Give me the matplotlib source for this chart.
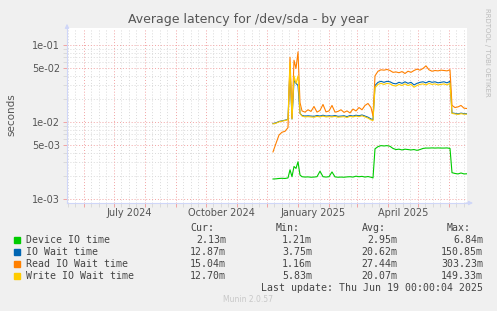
import numpy as np
import pandas as pd
import matplotlib
matplotlib.use('Agg')
import matplotlib.pyplot as plt
from matplotlib.patches import Rectangle

plt.rcParams['font.family'] = ['DejaVu Sans']

# day offsets from the first sample (2024-12-07)
start = pd.Timestamp('2024-12-07')
day_offsets = [0, 3, 6, 9, 12, 15, 17, 19, 21, 23, 25, 27, 29,
               32, 35, 38, 41, 44, 47, 50, 53, 56, 59, 62, 65, 68, 71, 74, 77, 80,
               83, 86, 89, 92, 95, 98, 100, 102,
               105, 108, 111, 114, 117, 120, 123, 126, 129, 132, 135, 138, 141,
               144, 147, 150, 153, 156, 159, 162, 165, 168, 171, 174, 177,
               179, 182, 185, 188, 191, 194]

# values in milliseconds
device_io = [1.82, 1.83, 1.85, 1.86, 1.85, 1.88, 2.4, 1.95, 2.65, 2.5, 3.05, 2.05, 1.95,
             1.93, 1.94, 1.92, 1.93, 1.95, 2.3, 1.95, 1.93, 1.95, 2.25, 1.94, 1.92, 1.93, 1.92, 1.94, 1.95, 1.93,
             1.98, 1.95, 1.97, 1.93, 1.96, 1.92, 1.88, 4.5,
             4.8, 4.95, 4.9, 4.95, 4.85, 4.55, 4.4, 4.45, 4.35, 4.45, 4.4, 4.35, 4.4,
             4.3, 4.4, 4.55, 4.6, 4.6, 4.62, 4.6, 4.62, 4.6, 4.6, 4.62, 4.55,
             2.2, 2.15, 2.12, 2.18, 2.12, 2.13]
io_wait = [9.6, 9.8, 10.2, 10.4, 10.6, 10.9, 50, 11, 35, 32, 30, 13, 12.2,
           12, 12.1, 12, 11.9, 12.2, 12, 12.3, 12, 12.1, 12, 12.2, 11.9, 12, 12.1, 11.8, 12.2, 12,
           12.3, 12.1, 12.4, 12, 11.6, 11, 10.8, 30,
           33, 34, 33, 34, 33.5, 32, 31.5, 33, 32, 33.5, 32, 33, 30.5,
           32, 33, 33.5, 32.5, 34, 33, 33.5, 32.5, 33, 33.5, 32.5, 34,
           13.2, 13, 12.8, 13.1, 12.9, 12.87]
read_wait = [4.1, 5.3, 6.8, 7.4, 7.6, 8.5, 70, 11.3, 64, 50, 82, 18, 14,
             13.5, 14.5, 13.8, 16, 13.5, 14.2, 17, 13.6, 14, 16.5, 13.5, 13.8, 14.5, 13.4, 14, 13.2, 14.8,
             14, 15.5, 14.5, 16.5, 17.5, 15.5, 12, 40,
             46, 48, 47.5, 48.5, 47, 44.5, 45, 44, 45.5, 43, 46, 44.5, 47,
             49, 47.5, 50, 54, 48, 46, 47, 46.5, 47.5, 47, 46.5, 48,
             16.5, 15.5, 15.8, 16.5, 15.2, 15.04]
write_wait = [9.5, 9.7, 10.1, 10.3, 10.5, 10.8, 60, 11, 40, 32, 40, 13, 12,
              11.7, 11.8, 11.7, 11.6, 11.9, 11.7, 12, 11.7, 11.8, 11.7, 11.9, 11.6, 11.7, 11.8, 11.5, 11.9, 11.7,
              12, 11.8, 12.1, 11.7, 11.3, 10.7, 10.5, 28,
              31, 32, 31, 32, 31.5, 30, 29.5, 31, 30, 31.5, 30, 31, 28.5,
              30, 31, 31.5, 30.5, 32, 31, 31.5, 30.5, 31, 31.5, 30.5, 32,
              13, 12.8, 12.6, 12.9, 12.7, 12.70]

series_names = ['Device IO time', 'IO Wait time', 'Read IO Wait time', 'Write IO Wait time']
series_colors = ['#00CC00', '#0066B3', '#FF8000', '#FFCC00']
cur_vals = ['2.13m', '12.87m', '15.04m', '12.70m']
min_vals = ['1.21m', '3.75m', '1.16m', '5.83m']
avg_vals = ['2.95m', '20.62m', '27.44m', '20.07m']
max_vals = ['6.84m', '150.85m', '303.23m', '149.33m']

month_labels = ['July 2024', 'October 2024', 'January 2025', 'April 2025']
month_label_dates = ['2024-07-16', '2024-10-16', '2025-01-16', '2025-04-16']

W, H = 497, 311
fig = plt.figure(figsize=(W / 100, H / 100), dpi=100, facecolor='#F0F0F0')
ax = fig.add_axes([67 / W, 1 - 203 / H, 400 / W, 175 / H])
ax.set_facecolor('white')

dates = [start + pd.Timedelta(days=d) for d in day_offsets]
for vals, c in zip([device_io, io_wait, read_wait, write_wait], series_colors):
    ax.plot(dates, np.array(vals) / 1000.0, color=c, lw=0.8, zorder=3)

ax.set_yscale('log')

grid_minor = '#DADADA'
grid_major = '#F2A3A3'

# y grid
yticks = [1e-3, 5e-3, 1e-2, 5e-2, 1e-1]
ax.set_yticks(yticks)
ax.set_yticklabels(['%.0e' % v for v in yticks])
yminor = [m * 10.0 ** e for e in (-3, -2) for m in (2, 3, 4, 6, 7, 8, 9)]
ax.set_yticks(yminor, minor=True)
ax.yaxis.set_minor_formatter(plt.NullFormatter())
for v in yminor:
    ax.axhline(v, color=grid_minor, lw=0.7, ls=(0, (1, 2)), zorder=1)
for v in yticks:
    ax.axhline(v, color=grid_major, lw=0.7, ls=(0, (1, 2)), zorder=2)

# x grid: month starts (major) and quarter-month lines (minor)
months = pd.date_range('2024-05-01', '2025-07-01', freq='MS')
xminor = [m + pd.Timedelta(days=d - 1) for m in months for d in (8, 16, 23)]
for m in months:
    ax.axvline(m, color=grid_major, lw=0.7, ls=(0, (1, 2)), zorder=2)
for m in xminor:
    ax.axvline(m, color=grid_minor, lw=0.7, ls=(0, (1, 2)), zorder=1)
ax.set_xticks(months)
ax.set_xticklabels([])
ax.set_xticks(xminor, minor=True)

# limits after ticks so they are not widened
ax.set_ylim(8.87e-4, 0.168)
ax.set_xlim(pd.Timestamp('2024-05-15'), pd.Timestamp('2025-06-19'))

ax.tick_params(axis='both', which='major', length=3, width=0.7, color=grid_major,
               labelsize=7, labelcolor='#555555', pad=2)
ax.tick_params(axis='both', which='minor', length=3, width=0.7, color=grid_minor)

for lab, d in zip(month_labels, month_label_dates):
    ax.text(pd.Timestamp(d), -0.03, lab, transform=ax.get_xaxis_transform(),
            ha='center', va='top', fontsize=7, color='#555555')

for s in ('top', 'right'):
    ax.spines[s].set_visible(False)
for s in ('left', 'bottom'):
    ax.spines[s].set_color('#CFD6F8')
    ax.spines[s].set_linewidth(0.8)

# axis arrows
ax.annotate('', xy=(0, 1.04), xytext=(0, 0.98), xycoords='axes fraction',
            arrowprops=dict(arrowstyle='-|>', color='#CFD6F8', lw=0.8, mutation_scale=6),
            annotation_clip=False)
ax.annotate('', xy=(1.022, 0), xytext=(0.99, 0), xycoords='axes fraction',
            arrowprops=dict(arrowstyle='-|>', color='#CFD6F8', lw=0.8, mutation_scale=6),
            annotation_clip=False)

fig.text(11 / W, 1 - 115 / H, 'seconds', rotation=90, ha='center', va='center',
         fontsize=7.5, color='#555555')

fig.text(248 / W, 1 - 19 / H, 'Average latency for /dev/sda - by year',
         ha='center', va='center', fontsize=9, color='#555555')
fig.text(487 / W, 1 - 52 / H, 'RRDTOOL / TOBI OETIKER', rotation=270,
         ha='center', va='center', fontsize=5, color='#BBBBBB')

# legend block
mono = dict(family='DejaVu Sans Mono', fontsize=7.1, color='#444444')
hdr_y = 228
fig.text(190 / W, 1 - hdr_y / H, 'Cur:', ha='left', va='center', **mono)
fig.text(276 / W, 1 - hdr_y / H, 'Min:', ha='left', va='center', **mono)
fig.text(362 / W, 1 - hdr_y / H, 'Avg:', ha='left', va='center', **mono)
fig.text(447 / W, 1 - hdr_y / H, 'Max:', ha='left', va='center', **mono)
row_y = [240, 252, 264, 276]
for i, name in enumerate(series_names):
    y = 1 - row_y[i] / H
    fig.patches.append(Rectangle((14 / W, y - 3 / H), 6 / W, 6 / H,
                                 transform=fig.transFigure, color=series_colors[i]))
    fig.text(26 / W, y, name, ha='left', va='center', **mono)
    fig.text(226 / W, y, cur_vals[i], ha='right', va='center', **mono)
    fig.text(312 / W, y, min_vals[i], ha='right', va='center', **mono)
    fig.text(397 / W, y, avg_vals[i], ha='right', va='center', **mono)
    fig.text(483 / W, y, max_vals[i], ha='right', va='center', **mono)
fig.text(483 / W, 1 - 288 / H, 'Last update: Thu Jun 19 00:00:04 2025',
         ha='right', va='center', **mono)
fig.text(248 / W, 1 - 300 / H, 'Munin 2.0.57', ha='center', va='center',
         fontsize=5.5, color='#C8C8C8')

fig.savefig('out.png', dpi=100, facecolor=fig.get_facecolor())
